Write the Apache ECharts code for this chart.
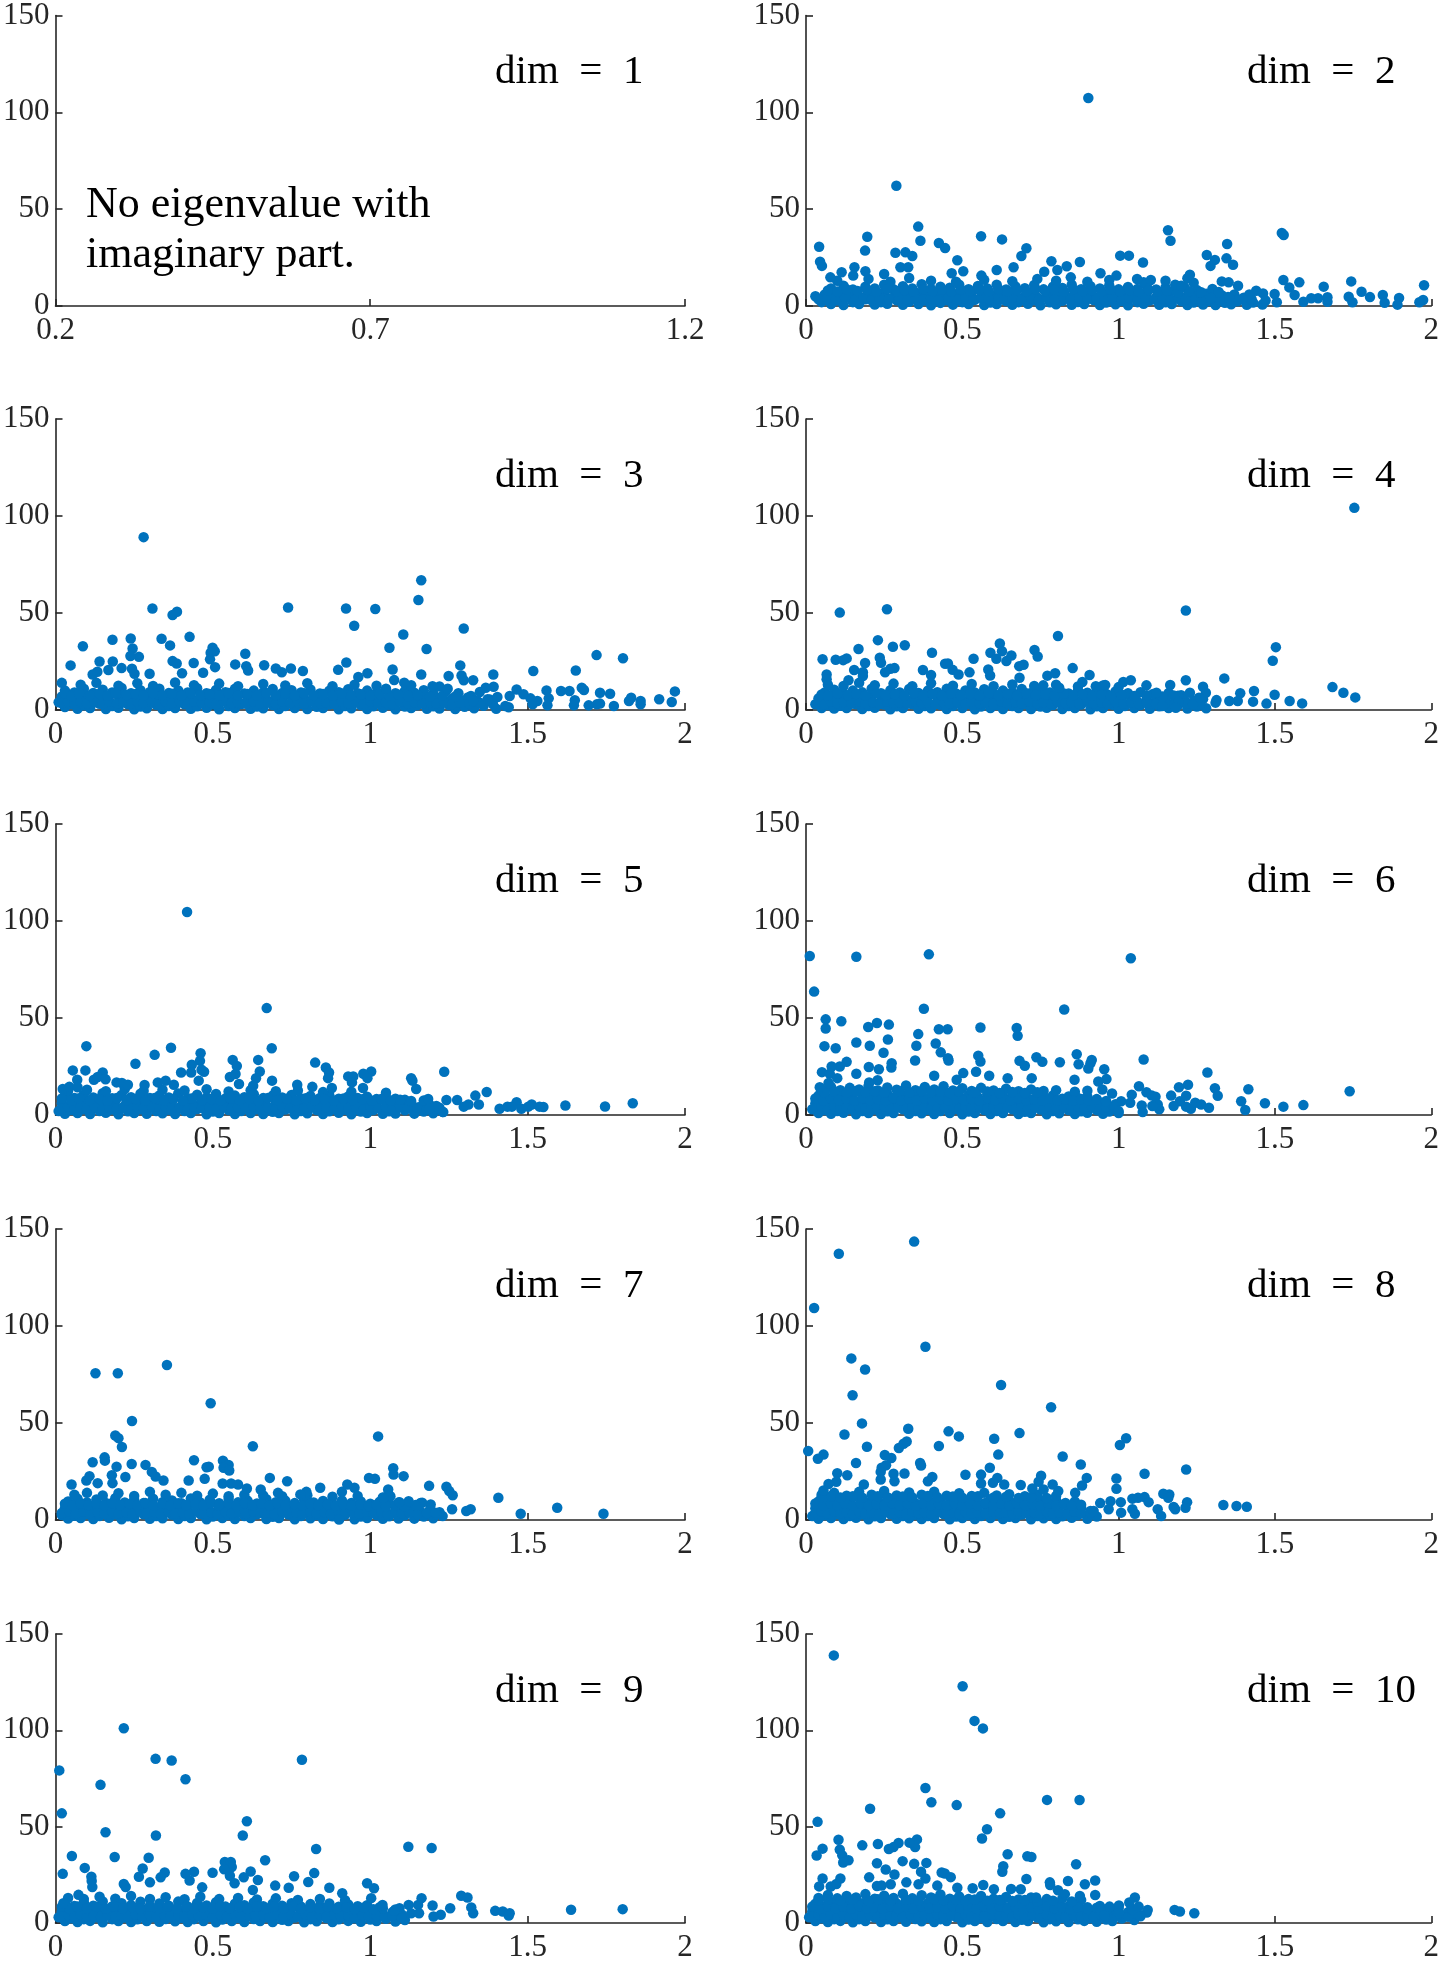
<!DOCTYPE html>
<html><head><meta charset="utf-8">
<script src="https://cdn.jsdelivr.net/npm/echarts@6/dist/echarts.min.js"></script>
<style>html,body{margin:0;padding:0;background:#fff}#c{width:1442px;height:1963px}</style>
</head><body><div id="c"></div>
<script>
const yTicks=[0,50,100,150];
const xTicksDim1=[0.2,0.7,1.2];
const xTicks=[0,0.5,1,1.5,2];
const dimLabels=['dim\u2002=\u20021','dim\u2002=\u20022','dim\u2002=\u20023','dim\u2002=\u20024','dim\u2002=\u20025','dim\u2002=\u20026','dim\u2002=\u20027','dim\u2002=\u20028','dim\u2002=\u20029','dim\u2002=\u200210'];
const noteLines=['No eigenvalue with','imaginary part.'];

const dim2Out=[[0.903,107.4],[0.289,62.1],[0.359,41],[0.366,33.7],[0.196,35.8],[0.189,28.6],[0.042,30.6],[0.045,22.9],[0.051,20.7],[0.286,27.5],[0.318,27.7],[0.34,25.8],[0.425,32.5],[0.445,29.9],[0.484,23.6],[0.56,36],[0.627,34.4],[0.705,29.8],[0.689,25.8],[0.785,23.1],[0.876,22.7],[1.005,26],[1.033,26],[1.078,22.5],[1.158,39.1],[1.166,33.7],[1.282,26.3],[1.294,20.7],[1.308,23.8],[1.347,32],[1.345,24.6],[1.366,21.3],[1.522,37.7],[1.528,36.7],[1.527,13.4],[1.578,12.2],[1.546,9.6],[1.563,5.7],[1.744,12.7],[1.777,7.4],[1.804,4.6],[1.845,5.7],[1.851,1.7],[1.897,4.1],[1.892,0.7],[1.977,10.7],[1.974,3.1],[1.962,1.9],[1.656,10],[1.668,4.5],[1.638,4],[1.616,4],[1.591,2.2],[1.668,2.2],[1.748,1.9],[1.736,4.8],[1.499,6.2],[1.462,6.5],[1.44,7.9],[1.418,5.9],[1.396,3.6],[1.382,10.5],[1.506,1.9],[1.47,2.8],[0.078,14.8],[0.114,17.4],[0.155,20],[0.151,15.7],[0.19,17.9],[0.25,16.5],[0.302,20],[0.327,20],[0.466,16.9],[0.503,17.9],[0.561,15.7],[0.61,18.6],[0.664,20],[0.762,17.7],[0.804,18.6],[0.834,20.5],[0.847,14.8],[0.942,16.9],[0.993,15.7],[1.059,13.9],[1.103,13.4],[1.181,11],[1.22,14.3],[1.228,16.2],[1.2,10.5],[1.264,7.1],[1.33,12.7],[1.352,12.2]];
const dim2Core=[[0.03,5],[0.05,2],[0.08,1],[0.1,3],[0.12,0.5],[0.15,2],[0.17,1],[0.19,3.5],[0.22,0.8],[0.24,2],[0.26,1.2],[0.29,3],[0.31,0.6],[0.33,2.2],[0.36,1],[0.38,2.8],[0.4,0.4],[0.43,1.6],[0.45,3],[0.47,0.7],[0.5,2],[0.52,1],[0.54,3.2],[0.57,0.5],[0.59,1.8],[0.61,1],[0.64,2.6],[0.66,0.6],[0.68,2],[0.71,1.1],[0.73,3],[0.75,0.4],[0.78,1.9],[0.8,0.9],[0.82,2.7],[0.85,0.6],[0.87,2.1],[0.89,1],[0.92,3.1],[0.94,0.5],[0.96,1.8],[0.99,0.9],[1.01,2.6],[1.03,0.4],[1.06,2],[1.08,1.1],[1.1,2.9],[1.13,0.6],[1.15,1.9],[1.17,1],[1.2,2.5],[1.22,0.5],[1.24,1.8],[1.27,0.8],[1.29,2.6],[1.31,0.5],[1.34,1.7],[1.36,0.9],[1.38,2.4],[1.41,0.6],[1.43,1.8],[1.46,0.8],
[0.06,6],[0.09,4.5],[0.11,7],[0.14,5],[0.16,6.5],[0.18,4.2],[0.21,6],[0.23,5],[0.25,7.2],[0.28,4.6],[0.3,6.2],[0.32,5.1],[0.35,6.8],[0.37,4.4],[0.39,6],[0.42,5.3],[0.44,7],[0.46,4.5],[0.49,6.1],[0.51,5],[0.53,6.9],[0.56,4.3],[0.58,6.2],[0.6,5.2],[0.63,7.1],[0.65,4.6],[0.67,6],[0.7,5],[0.72,6.7],[0.74,4.4],[0.77,6.3],[0.79,5.2],[0.81,6.9],[0.84,4.5],[0.86,6],[0.88,5.1],[0.91,6.6],[0.93,4.3],[0.95,6.2],[0.98,5],[1,6.8],[1.02,4.6],[1.05,6.1],[1.07,5.2],[1.09,6.6],[1.12,4.4],[1.14,6],[1.16,5],[1.19,6.4],[1.21,4.5],[1.23,5.9],[1.26,4.8],[1.28,6.3],[1.3,4.2],[1.33,5.6],[1.35,4.6],[1.37,6],[1.4,4.3],[1.42,5.2],
[0.08,9],[0.12,10.5],[0.15,8.5],[0.19,10],[0.22,9],[0.25,11],[0.28,8.6],[0.31,10.2],[0.34,9.1],[0.37,11.2],[0.4,8.8],[0.43,10],[0.46,9.4],[0.49,11],[0.52,8.7],[0.55,10.3],[0.58,9],[0.61,11],[0.64,8.5],[0.67,10.1],[0.7,9.2],[0.73,10.8],[0.76,8.6],[0.79,10],[0.82,9.3],[0.85,11],[0.88,8.7],[0.91,10.2],[0.94,9],[0.97,10.6],[1,8.6],[1.03,9.8],[1.06,8.8],[1.09,10.4],[1.12,8.5],[1.15,9.6],[1.18,8.2],[1.21,9.8],[1.25,8.3],[1.3,8.8],
[0.1,13],[0.2,14],[0.27,12.5],[0.33,14.5],[0.4,13],[0.48,12.5],[0.57,13.5],[0.66,12.8],[0.74,14],[0.8,13],[0.9,12.5],[0.97,13.4],[1.08,12.2],[1.15,13],[1.24,12]];
const dim2Fill=[[0.04,3.5],[0.07,4],[0.095,3],[0.125,4.2],[0.16,3.4],[0.185,4],[0.21,3],[0.235,4.4],[0.265,3.6],[0.3,4],[0.325,3.2],[0.35,4.3],[0.375,3.5],[0.4,4],[0.425,3],[0.455,4.2],[0.485,3.4],[0.51,4],[0.535,3.1],[0.56,4.4],[0.585,3.5],[0.615,4],[0.635,3.2],[0.66,4.3],[0.69,3.5],[0.72,4],[0.745,3.1],[0.77,4.2],[0.795,3.4],[0.825,4],[0.845,3],[0.875,4.3],[0.9,3.6],[0.93,4],[0.955,3.2],[0.98,4.4],[1.01,3.5],[1.035,4],[1.06,3.1],[1.085,4.2],[1.115,3.4],[1.14,4],[1.165,3],[1.19,4.3],[1.215,3.5],[1.245,4],[1.265,3.2],[1.295,4.1],[1.325,3.3],[1.355,3.9],[1.385,3.1],[1.425,3.6],
[0.07,8],[0.1,7.5],[0.13,8.6],[0.165,7.8],[0.195,8.4],[0.225,7.4],[0.26,8.8],[0.29,7.7],[0.315,8.3],[0.345,7.5],[0.375,8.7],[0.405,7.6],[0.435,8.4],[0.465,7.4],[0.495,8.6],[0.525,7.7],[0.555,8.2],[0.585,7.5],[0.615,8.8],[0.645,7.6],[0.675,8.3],[0.705,7.4],[0.735,8.7],[0.765,7.7],[0.795,8.4],[0.825,7.5],[0.855,8.6],[0.885,7.6],[0.915,8.2],[0.945,7.4],[0.975,8.5],[1.005,7.6],[1.035,8.1],[1.065,7.3],[1.095,8.2],[1.125,7.4],[1.155,7.9],[1.19,7.2],[1.225,7.6],[1.26,7],[1.32,7.2]];

const dim3Out=[[0.28,89.1],[1.162,66.9],[1.153,56.7],[0.308,52.3],[0.739,52.8],[0.923,52.3],[1.016,52.1],[0.386,50.6],[0.372,49],[0.949,43.4],[1.297,42],[1.105,38.9],[0.426,37.7],[0.337,36.7],[0.181,36.2],[0.239,36.9],[0.364,33.3],[0.087,32.9],[1.061,32.1],[1.179,31.4],[0.245,31.7],[0.499,32.1],[0.506,30.3],[0.493,29.5],[0.603,29],[1.719,28.3],[1.803,26.7],[0.265,27.4],[0.238,27.8],[0.491,26.1],[0.372,25.2],[0.385,24],[0.14,25],[0.182,25],[0.439,24.2],[0.571,23.5],[0.663,23.1],[0.924,24.5],[0.606,22.6],[1.286,23],[0.048,23],[0.507,22.1],[0.21,21.6],[0.243,21.3],[0.748,21.4],[0.7,21.4],[0.612,20.4],[0.719,19.5],[0.786,20.1],[0.898,20.7],[1.518,20.1],[1.653,20.4],[0.133,19.7],[0.168,20.6],[0.251,18.7],[0.299,18.7],[0.469,19.2],[0.402,18.9],[0.991,18.9],[1.162,18.3],[1.391,18.3],[1.29,17.8],[1.249,17.5],[0.118,18.3],[0.962,17],[1.071,20.9],[1.327,15.3],[1.56,10.1],[1.606,9.8],[1.633,9.8],[1.672,11.5],[1.679,10.3],[1.73,8.9],[1.762,8.4],[1.968,9.6],[1.918,5.5],[1.958,4.1],[1.829,6.3],[1.822,4.6],[1.859,4.6],[1.859,2.9],[1.774,2.1],[1.72,2.9],[1.694,2.4],[1.73,3.3],[1.65,5],[1.647,2.4],[1.567,6],[1.563,2.4],[1.531,4.6],[1.509,6],[1.516,2.9],[1.487,8.1],[1.465,10.6],[1.443,7.2],[1.429,2.1],[1.404,6.7],[1.392,12],[1.367,11.5],[1.348,9.3],[1.373,5.5],[1.327,4.6],[1.297,15.3],[1.246,11],[1.198,12.3],[1.108,14.1],[1.076,15.4],[1.05,11]];
const dim3Core=[[0.01,4],[0.03,1.5],[0.05,3],[0.07,0.6],[0.09,2.4],[0.11,1],[0.14,3.2],[0.16,0.5],[0.18,2],[0.2,1.1],[0.23,2.9],[0.25,0.4],[0.27,1.8],[0.29,0.9],[0.32,2.7],[0.34,0.5],[0.36,2.1],[0.38,1],[0.41,3],[0.43,0.6],[0.45,1.9],[0.48,1.1],[0.5,2.8],[0.52,0.4],[0.55,2],[0.57,1],[0.59,3.1],[0.62,0.6],[0.64,1.8],[0.66,0.9],[0.69,2.6],[0.71,0.5],[0.73,2.1],[0.76,1],[0.78,2.9],[0.8,0.5],[0.83,1.7],[0.85,1],[0.87,2.8],[0.9,0.4],[0.92,2],[0.94,0.9],[0.97,2.6],[0.99,0.5],[1.01,1.9],[1.04,1.1],[1.06,2.7],[1.08,0.4],[1.11,1.8],[1.13,1],[1.15,2.5],[1.18,0.6],[1.2,1.9],[1.22,0.8],[1.25,2.6],[1.27,0.5],[1.3,1.7],[1.33,0.9],[1.36,2.2],[1.4,0.6],[1.44,1.4],
[0.02,7],[0.04,5],[0.06,8],[0.08,5.5],[0.1,7],[0.13,4.6],[0.15,6.5],[0.17,5.1],[0.2,7.2],[0.22,4.4],[0.24,6.2],[0.26,5],[0.29,6.9],[0.31,4.5],[0.33,6.1],[0.35,5.3],[0.38,7],[0.4,4.4],[0.42,6.3],[0.45,5],[0.47,6.8],[0.49,4.6],[0.51,6],[0.54,5.2],[0.56,7.1],[0.58,4.3],[0.61,6.2],[0.63,5],[0.65,6.6],[0.68,4.5],[0.7,6.1],[0.72,5.1],[0.75,6.9],[0.77,4.4],[0.79,6],[0.82,5.2],[0.84,6.7],[0.86,4.6],[0.89,6.2],[0.91,5],[0.93,6.8],[0.96,4.3],[0.98,6],[1,5.1],[1.03,6.6],[1.05,4.5],[1.07,6.2],[1.1,5],[1.12,6.7],[1.14,4.4],[1.17,6],[1.19,5.2],[1.21,6.5],[1.24,4.5],[1.26,5.8],[1.29,4.8],[1.31,6.4],[1.34,4.6],[1.38,5.4],
[0.03,10],[0.06,9],[0.09,11],[0.12,8.8],[0.15,10.4],[0.18,9],[0.21,11.3],[0.24,8.6],[0.27,10.2],[0.3,9.3],[0.33,11],[0.36,8.7],[0.39,10.1],[0.42,9],[0.45,11.2],[0.48,8.6],[0.51,10.3],[0.54,9.2],[0.57,10.9],[0.6,8.5],[0.63,10],[0.66,9.1],[0.69,10.8],[0.72,8.7],[0.75,10.2],[0.78,9],[0.81,10.6],[0.84,8.5],[0.87,9.9],[0.9,9.2],[0.93,10.7],[0.96,8.6],[0.99,10],[1.02,9],[1.05,10.5],[1.08,8.6],[1.11,9.8],[1.14,8.9],[1.17,10.2],[1.2,8.5],[1.24,9.6],[1.28,8.6],
[0.02,14],[0.08,13],[0.13,14],[0.2,12.5],[0.26,13.8],[0.31,12.4],[0.38,14.2],[0.44,12.8],[0.52,13.6],[0.58,12.3],[0.66,13.4],[0.73,12.6],[0.8,13.8],[0.88,12.2],[0.95,13],[1.02,12.5],[1.13,12.8],[1.22,12.1]];
const dim3Fill=[[0.02,3.6],[0.04,4.2],[0.06,3.2],[0.08,4.4],[0.1,3.5],[0.125,4],[0.15,3.1],[0.17,4.3],[0.195,3.4],[0.215,4],[0.24,3.2],[0.26,4.4],[0.28,3.6],[0.305,4],[0.33,3.1],[0.35,4.2],[0.37,3.5],[0.395,4],[0.42,3.2],[0.44,4.3],[0.465,3.6],[0.49,4],[0.51,3.1],[0.535,4.4],[0.56,3.5],[0.58,4],[0.605,3.2],[0.63,4.2],[0.65,3.6],[0.675,4],[0.7,3.1],[0.72,4.3],[0.745,3.4],[0.77,4],[0.79,3.2],[0.815,4.4],[0.84,3.5],[0.86,4],[0.885,3.1],[0.91,4.2],[0.93,3.6],[0.955,4],[0.98,3.2],[1,4.3],[1.025,3.5],[1.05,4],[1.07,3.1],[1.095,4.2],[1.12,3.4],[1.14,4],[1.165,3.2],[1.19,4.1],[1.21,3.5],[1.235,3.9],[1.26,3.1],[1.285,3.8],[1.315,3.2],[1.35,3.6],[1.39,3],
[0.03,8.5],[0.05,7.2],[0.075,8.6],[0.11,7.6],[0.14,8.4],[0.165,7.4],[0.19,8.8],[0.225,7.7],[0.255,8.3],[0.28,7.5],[0.31,8.7],[0.34,7.6],[0.37,8.4],[0.4,7.4],[0.43,8.6],[0.46,7.7],[0.49,8.2],[0.52,7.5],[0.55,8.8],[0.58,7.6],[0.61,8.3],[0.64,7.4],[0.67,8.7],[0.7,7.7],[0.73,8.4],[0.76,7.5],[0.79,8.6],[0.82,7.6],[0.85,8.2],[0.88,7.4],[0.91,8.5],[0.94,7.6],[0.97,8.1],[1,7.3],[1.03,8.2],[1.06,7.4],[1.09,7.9],[1.12,7.2],[1.15,7.6],[1.19,7],[1.23,7.4],[1.27,7],[1.32,7.2]];

const dim4Out=[[1.754,104.2],[0.259,51.9],[0.108,50.2],[1.215,51.3],[0.806,38.1],[0.23,36],[0.316,33.4],[0.278,32.6],[0.62,34.3],[1.503,32.4],[0.168,31.4],[0.627,30.3],[0.731,30.9],[0.403,29.5],[0.59,29.5],[0.741,27.6],[0.657,28.1],[0.609,26.4],[0.536,26.4],[0.641,25.2],[0.236,26.9],[0.24,24.3],[1.493,25.4],[0.053,26.2],[0.095,25.9],[0.13,26.6],[0.119,25.7],[0.189,24.2],[0.696,23.3],[0.682,22.6],[0.454,24],[0.445,23.8],[0.27,21.3],[0.283,21.6],[0.853,21.6],[0.154,20.6],[0.469,20.7],[0.253,19.5],[0.182,19.5],[0.523,19.4],[0.583,20.9],[0.066,18.3],[0.374,20.6],[0.4,18],[0.488,18.3],[0.772,17.7],[0.797,18.9],[0.589,17.8],[0.907,18],[1.338,16.3],[0.683,16.6],[0.066,15.8],[0.136,15.3],[0.182,17.5],[1.015,14.4],[1.039,15.3],[1.165,12.9],[1.215,15.3],[1.27,12],[1.433,9.8],[1.389,8.6],[1.684,11.8],[1.719,8.9],[1.757,6.5],[1.499,7.9],[1.547,4.6],[1.587,3.4],[1.473,3.3],[1.43,4.3],[1.381,4.6],[1.354,4.6],[1.313,5.1],[1.279,8.9],[1.257,6.3],[1.228,8.9],[1.089,12.7],[1.121,8.9],[1.176,7.5],[1.191,4.1],[1.139,2.1],[1.183,1.2],[1.238,2.9],[0.957,12.9],[0.927,12.3],[0.884,14.4],[0.81,11.5],[0.759,12.7]];
const dim4Core=[[0.03,3],[0.05,1],[0.07,2.5],[0.09,0.8],[0.11,2.2],[0.13,1],[0.16,3],[0.18,0.5],[0.2,2],[0.22,1.1],[0.25,2.8],[0.27,0.4],[0.29,1.9],[0.31,1],[0.34,3],[0.36,0.6],[0.38,2.1],[0.4,0.9],[0.43,2.7],[0.45,0.5],[0.47,2],[0.5,1],[0.52,3.1],[0.54,0.4],[0.56,1.8],[0.59,1],[0.61,2.6],[0.63,0.5],[0.66,2.1],[0.68,1],[0.7,2.9],[0.72,0.5],[0.75,1.8],[0.77,1.1],[0.79,2.6],[0.82,0.5],[0.84,2],[0.86,1],[0.88,2.8],[0.91,0.4],[0.93,1.9],[0.95,1],[0.98,2.7],[1,0.6],[1.02,2],[1.05,1],[1.07,2.6],[1.1,0.6],[1.13,1.9],[1.16,1],[1.19,2.4],[1.22,0.8],[1.25,1.8],[1.28,0.9],
[0.04,6],[0.06,4.5],[0.08,6.8],[0.1,5],[0.12,7],[0.15,4.5],[0.17,6.3],[0.19,5.2],[0.21,7.1],[0.24,4.4],[0.26,6.1],[0.28,5],[0.3,6.9],[0.33,4.6],[0.35,6.2],[0.37,5.1],[0.39,6.8],[0.42,4.3],[0.44,6],[0.46,5.2],[0.49,7],[0.51,4.5],[0.53,6.2],[0.55,5],[0.58,6.7],[0.6,4.4],[0.62,6.1],[0.65,5.2],[0.67,6.9],[0.69,4.6],[0.71,6],[0.74,5],[0.76,6.7],[0.78,4.3],[0.81,6.2],[0.83,5.1],[0.85,6.6],[0.87,4.5],[0.9,6],[0.92,5.2],[0.94,6.4],[0.97,4.5],[0.99,5.8],[1.01,4.8],[1.04,6.2],[1.06,4.4],[1.09,5.5],[1.12,4.6],[1.15,5.9],[1.18,4.3],[1.21,5.2],[1.24,4.6],[1.27,5.6],[1.31,3.8],
[0.06,9],[0.09,10.5],[0.12,8.7],[0.15,10],[0.18,9.1],[0.21,11],[0.24,8.6],[0.27,10.2],[0.3,9],[0.33,10.8],[0.36,8.8],[0.39,10],[0.42,9.2],[0.45,10.9],[0.48,8.5],[0.51,10.1],[0.54,9],[0.57,10.7],[0.6,8.6],[0.63,10],[0.66,9.2],[0.69,10.8],[0.72,8.7],[0.75,10.1],[0.78,9],[0.81,10.4],[0.84,8.5],[0.87,9.8],[0.9,8.9],[0.93,10.2],[0.96,8.4],[0.99,9.6],[1.03,8.6],[1.07,9.2],[1.11,8.3],[1.16,8.8],[1.2,7.6],
[0.07,13],[0.12,12.4],[0.17,14],[0.22,12.8],[0.28,13.6],[0.34,12.2],[0.4,13.8],[0.47,12.5],[0.53,13.4],[0.6,12.3],[0.66,13.1],[0.73,12.4],[0.8,13],[0.87,12.1],[0.95,12.6],[1,11.8]];
const dim4Fill=[[0.04,3.8],[0.06,3.1],[0.08,4.2],[0.1,3.4],[0.12,4],[0.145,3.2],[0.17,4.4],[0.19,3.6],[0.215,4],[0.235,3.1],[0.26,4.2],[0.28,3.5],[0.3,4],[0.325,3.2],[0.35,4.3],[0.37,3.6],[0.39,4],[0.415,3.1],[0.44,4.4],[0.46,3.5],[0.485,4],[0.51,3.2],[0.53,4.2],[0.555,3.6],[0.575,4],[0.6,3.1],[0.625,4.3],[0.645,3.4],[0.67,4],[0.69,3.2],[0.715,4.4],[0.74,3.5],[0.76,4],[0.785,3.1],[0.805,4.2],[0.83,3.6],[0.85,4],[0.875,3.2],[0.9,4.3],[0.92,3.5],[0.945,4],[0.965,3.1],[0.99,4.1],[1.015,3.4],[1.04,3.9],[1.065,3.2],[1.09,3.8],[1.12,3.1],[1.15,3.6],[1.18,3],[1.215,3.5],[1.26,3],
[0.05,8],[0.07,7.3],[0.1,8.5],[0.135,7.6],[0.16,8.3],[0.19,7.4],[0.225,8.7],[0.255,7.7],[0.285,8.2],[0.315,7.5],[0.345,8.8],[0.375,7.6],[0.405,8.3],[0.435,7.4],[0.465,8.6],[0.495,7.7],[0.525,8.2],[0.555,7.5],[0.585,8.7],[0.615,7.6],[0.645,8.3],[0.675,7.4],[0.705,8.6],[0.735,7.7],[0.765,8.2],[0.795,7.5],[0.825,8.5],[0.855,7.6],[0.885,8.1],[0.915,7.3],[0.945,8.2],[0.975,7.4],[1.01,7.8],[1.05,7.2],[1.09,7.6],[1.14,7],[1.19,7.3]];

const dim5Out=[[0.418,104.6],[0.671,55.1],[0.687,34.4],[0.098,35.5],[0.367,34.7],[0.315,31],[0.461,31.8],[0.459,27.9],[0.563,28.4],[0.644,28.4],[0.254,26.4],[0.825,27],[0.433,25.9],[0.576,25.3],[0.464,23.3],[0.472,22.3],[0.859,24.5],[0.869,21.9],[0.866,19],[0.055,23],[0.095,23],[0.15,21.9],[0.399,21.9],[0.431,21.9],[0.649,22.4],[1.235,22.3],[1.003,22.4],[0.978,21.3],[0.991,19],[0.93,19.9],[0.946,19.9],[0.942,16.8],[0.554,19.6],[0.572,21.1],[0.637,18.9],[0.688,17.7],[1.13,19],[1.134,17.7],[0.122,18.2],[0.134,19.6],[0.159,18.4],[0.069,18.2],[0.194,16.8],[0.211,16.5],[0.23,15.6],[0.283,15.5],[0.325,16.8],[0.35,17.7],[0.376,15.6],[0.455,17.7],[0.583,16],[0.628,15.1],[0.768,15.6],[0.816,14.5],[0.878,13.9],[0.977,13.9],[1.146,13.4],[1.37,11.9],[0.023,13.4],[0.044,14.5],[0.07,14.3],[1.334,10],[1.345,5.4],[1.276,7.7],[1.312,5.4],[1.297,4.3],[1.184,8.3],[1.242,7.7],[1.21,4.6],[1.232,1.5],[1.187,3.2],[1.411,3.2],[1.436,4.3],[1.465,6.6],[1.48,3.2],[1.513,5.4],[1.538,4.3],[1.55,4.1],[1.62,4.9],[1.746,4.4],[1.834,6.1],[1.45,4.3],[1.502,4.3]];
const dim5Core=[[0.01,2],[0.03,0.6],[0.05,2.6],[0.07,1],[0.09,3],[0.11,0.5],[0.14,2],[0.16,1.1],[0.18,2.8],[0.2,0.4],[0.23,1.9],[0.25,1],[0.27,3],[0.29,0.6],[0.32,2.1],[0.34,0.9],[0.36,2.7],[0.38,0.5],[0.41,2],[0.43,1],[0.45,3.1],[0.48,0.4],[0.5,1.8],[0.52,1],[0.55,2.6],[0.57,0.5],[0.59,2.1],[0.62,1],[0.64,2.9],[0.66,0.5],[0.69,1.7],[0.71,1],[0.73,2.8],[0.76,0.4],[0.78,2],[0.8,0.9],[0.83,2.6],[0.85,0.5],[0.87,1.9],[0.9,1.1],[0.92,2.7],[0.94,0.4],[0.97,1.8],[0.99,1],[1.01,2.5],[1.04,0.6],[1.06,1.9],[1.08,0.8],[1.11,2.4],[1.14,0.7],[1.17,1.8],[1.2,0.9],[1.23,1.6],
[0.02,6],[0.04,4.5],[0.06,7],[0.08,5],[0.1,6.5],[0.13,4.4],[0.15,6.2],[0.17,5.1],[0.19,7.1],[0.22,4.6],[0.24,6.1],[0.26,5],[0.28,6.9],[0.31,4.3],[0.33,6.2],[0.35,5.2],[0.37,7],[0.4,4.5],[0.42,6],[0.44,5.1],[0.47,6.8],[0.49,4.4],[0.51,6.3],[0.54,5],[0.56,6.7],[0.58,4.6],[0.6,6],[0.63,5.2],[0.65,6.9],[0.67,4.4],[0.7,6.1],[0.72,5],[0.74,6.6],[0.77,4.5],[0.79,6],[0.81,5.1],[0.84,6.8],[0.86,4.3],[0.88,6],[0.91,5.2],[0.93,6.5],[0.95,4.6],[0.98,6],[1,5],[1.02,6.4],[1.05,4.4],[1.07,5.8],[1.1,4.7],[1.13,5.5],[1.16,4.2],[1.19,5.1],[1.22,3.8],
[0.03,10],[0.06,8.8],[0.09,10.6],[0.12,9],[0.15,11.2],[0.18,8.6],[0.21,10.3],[0.24,9.2],[0.27,11],[0.3,8.7],[0.33,10.1],[0.36,9],[0.39,11.1],[0.42,8.6],[0.45,10.4],[0.48,9.1],[0.51,10.8],[0.54,8.5],[0.57,10],[0.6,9.2],[0.63,10.7],[0.66,8.7],[0.69,10],[0.72,9],[0.75,10.3],[0.78,8.5],[0.81,9.8],[0.84,8.8],[0.87,10.1],[0.9,8.4],[0.93,9.6],[0.96,8.7],[0.99,9.4],[1.02,8.2],[1.05,9],[1.08,8.4],[1.11,7.8],
[0.04,12.5],[0.1,13],[0.16,12.2],[0.22,13.4],[0.28,12.4],[0.34,13],[0.41,12.6],[0.48,13.3],[0.55,12.1],[0.62,12.8],[0.7,12.2],[0.77,12.6],[0.85,11.8],[0.94,12],[1.05,11.5]];
const dim5Fill=[[0.02,3.6],[0.04,4.2],[0.06,3.2],[0.08,4.4],[0.1,3.5],[0.125,4],[0.15,3.1],[0.17,4.3],[0.195,3.4],[0.215,4],[0.24,3.2],[0.26,4.4],[0.28,3.6],[0.305,4],[0.33,3.1],[0.35,4.2],[0.37,3.5],[0.395,4],[0.42,3.2],[0.44,4.3],[0.465,3.6],[0.49,4],[0.51,3.1],[0.535,4.4],[0.56,3.5],[0.58,4],[0.605,3.2],[0.63,4.2],[0.65,3.6],[0.675,4],[0.7,3.1],[0.72,4.3],[0.745,3.4],[0.77,4],[0.79,3.2],[0.815,4.4],[0.84,3.5],[0.86,4],[0.885,3.1],[0.91,4.2],[0.93,3.6],[0.955,4],[0.98,3.2],[1,4.3],[1.025,3.5],[1.05,4],[1.07,3.1],[1.095,4.2],[1.12,3.4],[1.15,3.9],[1.18,3.1],[1.21,3.5],
[0.02,8.5],[0.05,7.4],[0.075,8.6],[0.11,7.6],[0.14,8.4],[0.165,7.4],[0.195,8.8],[0.225,7.7],[0.255,8.3],[0.285,7.5],[0.315,8.7],[0.345,7.6],[0.375,8.4],[0.405,7.4],[0.435,8.6],[0.465,7.7],[0.495,8.2],[0.525,7.5],[0.555,8.8],[0.585,7.6],[0.615,8.3],[0.645,7.4],[0.675,8.7],[0.705,7.7],[0.735,8.4],[0.765,7.5],[0.795,8.6],[0.825,7.6],[0.855,8.2],[0.885,7.4],[0.915,8.5],[0.945,7.6],[0.975,8.1],[1.005,7.3],[1.035,8.2],[1.065,7.4],[1.095,7.9],[1.13,7.2],[1.17,7.5]];

const dim6Out=[[0.012,82],[0.161,81.6],[0.393,82.8],[1.039,80.8],[0.026,63.6],[0.377,54.8],[0.826,54.4],[0.063,49.3],[0.113,48.3],[0.227,47.4],[0.265,46.6],[0.063,44.6],[0.199,45.4],[0.425,44.2],[0.453,44.2],[0.558,45.1],[0.674,44.9],[0.677,40.8],[0.359,41.7],[0.161,37.4],[0.262,38.9],[0.415,36.9],[0.059,35.5],[0.204,35.7],[0.095,34.4],[0.353,35.7],[0.248,32.1],[0.431,32.3],[0.866,31.3],[0.551,30.6],[0.737,29.8],[0.914,28.4],[1.08,28.6],[0.454,29.3],[0.558,27.6],[0.349,28.1],[0.456,28.1],[0.683,27.9],[0.756,27.4],[0.812,27.2],[0.91,26.7],[0.13,27.4],[0.274,26.7],[0.273,24.5],[0.872,26.2],[0.7,25.4],[0.108,25],[0.082,25],[0.233,23.6],[0.201,24.7],[0.903,24],[0.954,23.6],[1.284,21.9],[0.051,22.1],[0.076,21.3],[0.161,21.3],[0.503,21.6],[0.544,22.3],[0.586,20.2],[0.41,20.2],[0.1,19],[0.229,17.9],[0.202,16.8],[0.482,18.2],[0.645,18.9],[0.722,19],[0.859,18.2],[0.961,18.5],[0.935,17.3],[0.072,16.5],[0.044,14.3],[1.065,14.8],[1.193,14.3],[1.222,15.6],[1.308,13.8],[1.415,13.3],[1.317,9.9],[1.216,9.9],[1.168,10],[1.739,12.2],[0.948,13.1],[0.979,11.1],[1.089,11.7],[1.106,10],[1.118,9.4],[1.125,5.4],[1.13,2.9],[1.108,4.6],[1.074,4.9],[1.077,1.5],[1.042,10.5],[1.037,6.3],[1.196,7.1],[1.176,4.6],[1.216,4.3],[1.231,3.2],[1.245,6.3],[1.264,5.4],[1.289,3.7],[1.392,7.1],[1.405,2.6],[1.468,6.1],[1.527,4.3],[1.591,5.1],[1.008,7.1],[0.986,4.3],[1,2]];
const dim6Core=[[0.02,3],[0.04,1],[0.06,2.5],[0.08,0.6],[0.1,2],[0.12,1.1],[0.14,3],[0.16,0.4],[0.18,2],[0.2,1],[0.22,2.8],[0.24,0.5],[0.26,1.9],[0.28,1],[0.31,3],[0.33,0.6],[0.35,2.1],[0.37,0.9],[0.39,2.7],[0.41,0.5],[0.43,2],[0.46,1],[0.48,3.1],[0.5,0.4],[0.52,1.8],[0.54,1],[0.57,2.6],[0.59,0.5],[0.61,2.1],[0.63,1],[0.66,2.9],[0.68,0.5],[0.7,1.7],[0.72,1],[0.75,2.8],[0.77,0.4],[0.79,2],[0.81,0.9],[0.84,2.6],[0.86,0.5],[0.88,1.9],[0.9,1.1],[0.93,2.5],[0.95,0.6],[0.97,1.8],[1,1],
[0.03,6],[0.05,4.6],[0.07,7],[0.09,5],[0.11,6.6],[0.13,4.4],[0.15,6.2],[0.17,5.1],[0.19,7.1],[0.21,4.6],[0.23,6.1],[0.25,5],[0.27,6.9],[0.29,4.3],[0.32,6.2],[0.34,5.2],[0.36,7],[0.38,4.5],[0.4,6],[0.42,5.1],[0.45,6.8],[0.47,4.4],[0.49,6.3],[0.51,5],[0.53,6.7],[0.55,4.6],[0.58,6],[0.6,5.2],[0.62,6.9],[0.64,4.4],[0.67,6.1],[0.69,5],[0.71,6.6],[0.73,4.5],[0.76,6],[0.78,5.1],[0.8,6.8],[0.82,4.3],[0.85,6],[0.87,5.2],[0.89,6.5],[0.91,4.6],[0.94,5.8],[0.96,4.8],[0.99,5.5],
[0.04,10],[0.07,8.7],[0.1,10.6],[0.12,9],[0.15,11.2],[0.18,8.6],[0.2,10.3],[0.23,9.2],[0.26,11],[0.28,8.7],[0.31,10.1],[0.34,9],[0.36,11.1],[0.39,8.6],[0.42,10.4],[0.44,9.1],[0.47,10.8],[0.5,8.5],[0.52,10],[0.55,9.2],[0.58,10.7],[0.6,8.7],[0.63,10],[0.66,9],[0.68,10.3],[0.71,8.5],[0.74,9.8],[0.76,8.8],[0.79,10.1],[0.82,8.4],[0.84,9.6],[0.87,8.7],[0.9,9.4],[0.93,8.2],
[0.05,13],[0.08,14.5],[0.11,12.8],[0.14,14],[0.17,13.2],[0.2,15],[0.23,12.6],[0.26,14.2],[0.29,13],[0.32,15.2],[0.35,12.8],[0.38,14.4],[0.41,13.2],[0.44,14.8],[0.47,12.6],[0.5,13.8],[0.53,12.4],[0.56,14],[0.6,12.6],[0.64,13.5],[0.68,12.2],[0.72,13.2],[0.76,12.4],[0.8,12.8],[0.86,12],[0.9,12.5]];
const dim6Fill=[[0.03,3.6],[0.05,4.2],[0.07,3.2],[0.09,4.4],[0.11,3.5],[0.13,4],[0.15,3.1],[0.17,4.3],[0.19,3.4],[0.21,4],[0.23,3.2],[0.25,4.4],[0.27,3.6],[0.295,4],[0.32,3.1],[0.34,4.2],[0.36,3.5],[0.38,4],[0.4,3.2],[0.42,4.3],[0.445,3.6],[0.47,4],[0.49,3.1],[0.51,4.4],[0.53,3.5],[0.555,4],[0.58,3.2],[0.6,4.2],[0.62,3.6],[0.645,4],[0.67,3.1],[0.69,4.3],[0.71,3.4],[0.735,4],[0.76,3.2],[0.78,4.4],[0.8,3.5],[0.825,4],[0.85,3.1],[0.87,4.2],[0.89,3.6],[0.915,4],[0.94,3.2],[0.96,4.1],[0.985,3.4],
[0.03,8.5],[0.055,7.4],[0.08,8.6],[0.105,7.6],[0.13,8.4],[0.155,7.4],[0.18,8.8],[0.205,7.7],[0.23,8.3],[0.255,7.5],[0.28,8.7],[0.305,7.6],[0.33,8.4],[0.355,7.4],[0.38,8.6],[0.405,7.7],[0.43,8.2],[0.455,7.5],[0.48,8.8],[0.505,7.6],[0.53,8.3],[0.555,7.4],[0.58,8.7],[0.605,7.7],[0.63,8.4],[0.655,7.5],[0.68,8.6],[0.705,7.6],[0.73,8.2],[0.755,7.4],[0.78,8.5],[0.805,7.6],[0.83,8.1],[0.855,7.3],[0.88,8.2],[0.905,7.4],[0.93,7.9],[0.96,7.2],
[0.06,11.8],[0.09,12.2],[0.13,11.6],[0.16,12.4],[0.19,11.7],[0.22,12.2],[0.25,11.5],[0.3,12.3],[0.33,11.6],[0.37,12.4],[0.4,11.8],[0.43,12.1],[0.46,11.4],[0.49,12.2],[0.54,11.6],[0.58,12.1],[0.62,11.4],[0.66,11.8],[0.7,11.3],[0.74,11.7]];

const dim7Out=[[0.354,79.9],[0.127,75.6],[0.198,75.6],[0.493,60.2],[0.243,51],[1.025,43.1],[0.19,43.6],[0.2,42.2],[0.211,37.6],[0.627,38],[0.156,32.3],[0.157,30.6],[0.118,29.8],[0.242,28.9],[0.286,28.4],[0.44,30.8],[0.532,30.6],[0.55,28.4],[0.487,27.5],[0.48,27.2],[0.534,26.9],[0.552,25.5],[0.194,27.5],[1.073,26.7],[1.074,23.4],[0.306,24.8],[0.179,23.1],[0.318,22.4],[0.222,22.2],[0.108,22.6],[1.106,22.6],[0.681,21.7],[0.996,21.7],[1.015,21.2],[0.098,20.4],[0.134,19],[0.181,19],[0.343,20.4],[0.423,20.4],[0.474,21.2],[0.736,20],[0.051,18.3],[0.531,18.8],[0.558,18.8],[0.58,18.3],[0.927,18.3],[0.95,16.6],[1.187,17.6],[1.242,17.1],[1.251,14.9],[1.262,12.8],[1.407,11.5],[1.594,6.3],[1.478,3.2],[1.741,3.2],[1.319,5.5],[1.305,4.6],[1.26,5.5],[1.207,3.8],[1.192,8],[1.165,8.9],[1.144,7.7],[1.122,9.7],[1.057,15.7],[1.064,12.3],[1.042,11.5],[1.093,9.2],[0.841,16.6],[0.797,14.5],[0.778,13.2],[0.707,14],[0.652,15.7],[0.608,16.2],[0.91,14.5],[0.901,0.3]];
const dim7Core=[[0.02,2.6],[0.04,0.8],[0.06,2.2],[0.08,1],[0.1,3],[0.12,0.5],[0.14,2],[0.17,1.1],[0.19,2.8],[0.21,0.4],[0.23,1.9],[0.25,1],[0.28,3],[0.3,0.6],[0.32,2.1],[0.34,0.9],[0.37,2.7],[0.39,0.5],[0.41,2],[0.43,1],[0.46,3.1],[0.48,0.4],[0.5,1.8],[0.53,1],[0.55,2.6],[0.57,0.5],[0.6,2.1],[0.62,1],[0.64,2.9],[0.67,0.5],[0.69,1.7],[0.71,1],[0.74,2.8],[0.76,0.4],[0.78,2],[0.81,0.9],[0.83,2.6],[0.85,0.5],[0.88,1.9],[0.9,1.1],[0.92,2.7],[0.95,0.4],[0.97,1.8],[0.99,1],[1.02,2.5],[1.04,0.6],[1.06,1.9],[1.09,0.8],[1.11,2.4],[1.14,0.7],[1.17,1.8],[1.2,0.9],[1.23,2],
[0.03,6],[0.05,4.5],[0.07,7],[0.09,5],[0.11,6.5],[0.13,4.4],[0.16,6.2],[0.18,5.1],[0.2,7.1],[0.22,4.6],[0.24,6.1],[0.27,5],[0.29,6.9],[0.31,4.3],[0.33,6.2],[0.36,5.2],[0.38,7],[0.4,4.5],[0.42,6],[0.45,5.1],[0.47,6.8],[0.49,4.4],[0.52,6.3],[0.54,5],[0.56,6.7],[0.59,4.6],[0.61,6],[0.63,5.2],[0.66,6.9],[0.68,4.4],[0.7,6.1],[0.73,5],[0.75,6.6],[0.77,4.5],[0.8,6],[0.82,5.1],[0.84,6.8],[0.87,4.3],[0.89,6],[0.91,5.2],[0.94,6.5],[0.96,4.6],[0.98,6],[1.01,5],[1.03,6.4],[1.05,4.4],[1.08,5.8],[1.1,4.7],[1.13,5.5],[1.16,4.2],[1.19,5.4],[1.22,4],
[0.04,9.5],[0.07,11],[0.1,9],[0.13,10.6],[0.16,8.8],[0.19,11.2],[0.22,9],[0.25,10.3],[0.28,8.7],[0.31,11],[0.34,9.2],[0.37,10.1],[0.4,8.6],[0.43,11.1],[0.46,9],[0.49,10.4],[0.52,8.6],[0.55,10.8],[0.58,9.1],[0.61,10],[0.64,8.5],[0.67,10.7],[0.7,9.2],[0.73,10],[0.76,8.7],[0.79,10.3],[0.82,9],[0.85,9.8],[0.88,8.5],[0.91,10.1],[0.94,8.8],[0.97,9.6],[1,8.4],[1.03,9.4],[1.06,8.7],[1.09,9],[1.12,8.2],[1.16,8.8],
[0.06,13],[0.1,14],[0.15,12.6],[0.2,13.8],[0.25,12.4],[0.3,14.5],[0.35,13],[0.4,14],[0.45,12.5],[0.5,13.6],[0.55,12.3],[0.6,13],[0.66,12.6],[0.72,12.2],[0.8,12.8],[0.88,12],[0.96,12.4],[1.04,11.6]];
const dim7Fill=[[0.02,3.6],[0.045,4.2],[0.065,3.2],[0.09,4.4],[0.11,3.5],[0.135,4],[0.155,3.1],[0.18,4.3],[0.2,3.4],[0.225,4],[0.245,3.2],[0.27,4.4],[0.29,3.6],[0.315,4],[0.335,3.1],[0.36,4.2],[0.38,3.5],[0.405,4],[0.425,3.2],[0.45,4.3],[0.47,3.6],[0.495,4],[0.515,3.1],[0.54,4.4],[0.56,3.5],[0.585,4],[0.605,3.2],[0.63,4.2],[0.65,3.6],[0.675,4],[0.695,3.1],[0.72,4.3],[0.74,3.4],[0.765,4],[0.785,3.2],[0.81,4.4],[0.83,3.5],[0.855,4],[0.875,3.1],[0.9,4.2],[0.92,3.6],[0.945,4],[0.965,3.2],[0.99,4.3],[1.01,3.5],[1.035,4],[1.055,3.1],[1.08,4.2],[1.1,3.4],[1.125,3.9],[1.15,3.1],[1.18,3.6],[1.21,3],
[0.03,8.4],[0.055,7.4],[0.08,8.6],[0.105,7.6],[0.13,8.4],[0.155,7.4],[0.18,8.8],[0.205,7.7],[0.235,8.3],[0.26,7.5],[0.285,8.7],[0.31,7.6],[0.34,8.4],[0.365,7.4],[0.39,8.6],[0.415,7.7],[0.445,8.2],[0.47,7.5],[0.495,8.8],[0.52,7.6],[0.55,8.3],[0.575,7.4],[0.6,8.7],[0.625,7.7],[0.655,8.4],[0.68,7.5],[0.705,8.6],[0.73,7.6],[0.76,8.2],[0.785,7.4],[0.81,8.5],[0.835,7.6],[0.865,8.1],[0.89,7.3],[0.915,8.2],[0.94,7.4],[0.97,7.9],[0.995,7.2],[1.02,7.8],[1.05,7.1],[1.08,7.6],[1.11,7],[1.15,7.3]];

const dim8Out=[[0.346,143.5],[0.105,137.2],[0.026,109.3],[0.382,89.3],[0.145,83.3],[0.189,77.6],[0.149,64.3],[0.624,69.6],[0.784,58.1],[0.179,49.8],[0.327,47],[0.456,45.7],[0.683,44.8],[0.123,44.1],[0.489,43.1],[0.602,41.9],[1.024,42.1],[1.004,38.7],[0.322,40.5],[0.312,39.3],[0.297,37.1],[0.425,38.1],[0.195,37.8],[0.007,35.6],[0.056,33.7],[0.038,31.6],[0.252,33.5],[0.273,32],[0.615,33.7],[0.821,32.7],[0.365,29.4],[0.368,28.1],[0.16,29.4],[0.879,28.6],[0.588,26.9],[1.216,26],[0.242,26.9],[0.256,28.2],[0.1,24.1],[0.132,23.1],[0.239,24.8],[0.28,23.8],[0.315,24],[1.083,23.8],[0.56,23.4],[0.51,23.3],[0.898,21.7],[0.993,21.4],[0.752,22.8],[0.612,21.7],[0.404,22.2],[0.097,19.7],[0.072,18.6],[0.185,18.3],[0.239,20.9],[0.283,20],[0.39,20],[0.56,18.8],[0.598,19.2],[0.634,18.3],[0.744,19.7],[0.687,18],[0.789,18.3],[0.883,17.8],[0.993,16.1],[0.056,15.2],[0.724,16.3],[0.76,15.7],[0.807,14.9],[0.861,14],[1.162,13.2],[1.143,13.5],[1.083,11.8],[1.062,11.5],[1.044,11],[1.096,9.2],[1.219,9.2],[1.335,7.7],[1.377,7.2],[1.41,6.8],[1.007,9.2],[0.974,9.7],[0.941,8.7],[0.92,4.6],[0.968,5.5],[1.008,3.8],[1.044,5.5],[1.052,3.2],[1.125,5.5],[1.136,2.1],[1.176,6.7],[1.181,5.5],[1.214,6.3],[1.159,11.5]];
const dim8Core=[[0.02,2],[0.04,0.6],[0.06,2.5],[0.08,1],[0.1,3],[0.12,0.5],[0.14,2],[0.16,1.1],[0.18,2.8],[0.2,0.4],[0.22,1.9],[0.24,1],[0.27,3],[0.29,0.6],[0.31,2.1],[0.33,0.9],[0.35,2.7],[0.37,0.5],[0.39,2],[0.41,1],[0.44,3.1],[0.46,0.4],[0.48,1.8],[0.5,1],[0.52,2.6],[0.54,0.5],[0.56,2.1],[0.59,1],[0.61,2.9],[0.63,0.5],[0.65,1.7],[0.67,1],[0.69,2.8],[0.72,0.4],[0.74,2],[0.76,0.9],[0.78,2.6],[0.8,0.5],[0.82,1.9],[0.85,1.1],[0.87,2.5],[0.9,0.6],[0.93,1.8],
[0.03,6],[0.05,4.5],[0.07,7],[0.09,5],[0.11,6.5],[0.13,4.4],[0.15,6.2],[0.17,5.1],[0.19,7.1],[0.21,4.6],[0.23,6.1],[0.25,5],[0.28,6.9],[0.3,4.3],[0.32,6.2],[0.34,5.2],[0.36,7],[0.38,4.5],[0.4,6],[0.43,5.1],[0.45,6.8],[0.47,4.4],[0.49,6.3],[0.51,5],[0.53,6.7],[0.55,4.6],[0.58,6],[0.6,5.2],[0.62,6.9],[0.64,4.4],[0.66,6.1],[0.68,5],[0.71,6.6],[0.73,4.5],[0.75,6],[0.77,5.1],[0.79,6.8],[0.81,4.3],[0.84,6],[0.86,5.2],[0.88,6.2],[0.91,4.6],
[0.04,9.5],[0.06,11],[0.09,9],[0.12,10.6],[0.14,8.8],[0.17,11.2],[0.2,9],[0.22,10.3],[0.25,8.7],[0.27,11],[0.3,9.2],[0.33,10.1],[0.35,8.6],[0.38,11.1],[0.41,9],[0.43,10.4],[0.46,8.6],[0.49,10.8],[0.51,9.1],[0.54,10],[0.57,8.5],[0.59,10.7],[0.62,9.2],[0.65,10],[0.67,8.7],[0.7,10.3],[0.73,9],[0.75,9.8],[0.78,8.5],[0.8,10.1],[0.83,8.8],[0.86,9.6],
[0.05,13],[0.09,14],[0.13,12.5],[0.17,14.5],[0.21,13],[0.25,15],[0.29,12.6],[0.33,14.2],[0.37,13],[0.41,14.6],[0.45,12.5],[0.49,13.8],[0.53,12.4],[0.57,14],[0.61,12.6],[0.65,13.3],[0.7,12.2],[0.74,13],[0.8,12.4]];
const dim8Fill=[[0.03,3.6],[0.05,4.2],[0.07,3.2],[0.09,4.4],[0.11,3.5],[0.13,4],[0.15,3.1],[0.17,4.3],[0.19,3.4],[0.21,4],[0.235,3.2],[0.255,4.4],[0.28,3.6],[0.3,4],[0.32,3.1],[0.34,4.2],[0.36,3.5],[0.38,4],[0.4,3.2],[0.425,4.3],[0.45,3.6],[0.47,4],[0.49,3.1],[0.51,4.4],[0.53,3.5],[0.55,4],[0.575,3.2],[0.6,4.2],[0.62,3.6],[0.64,4],[0.66,3.1],[0.68,4.3],[0.705,3.4],[0.73,4],[0.75,3.2],[0.77,4.4],[0.79,3.5],[0.81,4],[0.835,3.1],[0.86,4.2],[0.88,3.6],[0.91,3.9],
[0.03,8.5],[0.055,7.4],[0.08,8.6],[0.1,7.6],[0.125,8.4],[0.15,7.4],[0.175,8.8],[0.2,7.7],[0.225,8.3],[0.25,7.5],[0.275,8.7],[0.3,7.6],[0.325,8.4],[0.35,7.4],[0.375,8.6],[0.4,7.7],[0.425,8.2],[0.45,7.5],[0.475,8.8],[0.5,7.6],[0.525,8.3],[0.55,7.4],[0.575,8.7],[0.6,7.7],[0.625,8.4],[0.65,7.5],[0.675,8.6],[0.7,7.6],[0.725,8.2],[0.75,7.4],[0.775,8.5],[0.8,7.6],[0.825,8.1],[0.85,7.3],[0.88,7.9],
[0.05,11.8],[0.08,12.4],[0.11,11.6],[0.15,12.2],[0.18,11.5],[0.23,12.3],[0.26,11.7],[0.31,12.1],[0.34,11.6],[0.39,12.4],[0.42,11.8],[0.47,12.1],[0.5,11.5],[0.55,12.2],[0.6,11.6],[0.64,12],[0.68,11.4],[0.72,11.9],[0.77,11.3]];

const dim9Out=[[0.217,101.1],[0.318,85.2],[0.369,84.3],[0.783,84.7],[0.012,79.2],[0.413,74.6],[0.143,71.7],[0.02,56.9],[0.608,52.8],[0.159,47.1],[0.319,45.4],[0.595,45.4],[1.121,39.6],[1.195,38.9],[0.828,38.4],[0.052,34.8],[0.188,34.3],[0.296,33.9],[0.666,32.6],[0.538,31.7],[0.557,31.7],[0.56,29.1],[0.536,27.9],[0.093,28.6],[0.277,28.3],[0.499,26.1],[0.62,26.7],[0.822,25.9],[0.023,25.5],[0.347,26.2],[0.44,26.6],[0.413,25.5],[0.334,23.7],[0.758,24.3],[0.114,24],[0.554,24.5],[0.265,24],[0.598,23.7],[0.115,21.8],[0.426,22.1],[0.643,22.3],[0.803,21.3],[0.217,20.2],[0.3,21.1],[0.569,20.6],[0.99,20.6],[0.117,18.7],[0.223,18.7],[0.466,18.5],[0.698,19.4],[0.741,18.3],[0.87,18.3],[1.012,18],[0.627,17.1],[0.911,15.4],[1.289,14.1],[1.309,13.2],[1.163,12.9],[0.073,14.6],[0.025,10.3],[1.254,7.7],[1.321,8.1],[1.327,5.1],[1.397,6.3],[1.421,6],[1.443,5.1],[1.44,3.9],[1.638,6.9],[1.802,7.2],[1.224,4.3],[1.201,3.4],[1.198,9.1],[1.152,9.4],[1.155,5.1],[1.122,9.4],[1.093,7.7],[1.076,6.3],[1.039,9.4],[1.003,12.9]];
const dim9Core=[[0.01,3],[0.03,1],[0.05,2.5],[0.07,0.5],[0.09,2],[0.11,1.1],[0.13,3],[0.15,0.4],[0.18,2],[0.2,1],[0.22,2.8],[0.24,0.5],[0.26,1.9],[0.29,1],[0.31,3],[0.33,0.6],[0.35,2.1],[0.38,0.9],[0.4,2.7],[0.42,0.5],[0.44,2],[0.47,1],[0.49,3.1],[0.51,0.4],[0.53,1.8],[0.56,1],[0.58,2.6],[0.6,0.5],[0.63,2.1],[0.65,1],[0.67,2.9],[0.69,0.5],[0.72,1.7],[0.74,1],[0.76,2.8],[0.79,0.4],[0.81,2],[0.83,0.9],[0.86,2.6],[0.88,0.5],[0.9,1.9],[0.93,1.1],[0.95,2.5],[0.97,0.6],[1,1.8],[1.02,1],[1.05,2.2],[1.08,0.8],[1.11,1.6],
[0.02,6],[0.04,4.5],[0.06,7],[0.08,5],[0.1,6.5],[0.12,4.4],[0.14,6.2],[0.17,5.1],[0.19,7.1],[0.21,4.6],[0.23,6.1],[0.25,5],[0.28,6.9],[0.3,4.3],[0.32,6.2],[0.34,5.2],[0.37,7],[0.39,4.5],[0.41,6],[0.43,5.1],[0.46,6.8],[0.48,4.4],[0.5,6.3],[0.52,5],[0.55,6.7],[0.57,4.6],[0.59,6],[0.62,5.2],[0.64,6.9],[0.66,4.4],[0.68,6.1],[0.71,5],[0.73,6.6],[0.75,4.5],[0.78,6],[0.8,5.1],[0.82,6.8],[0.85,4.3],[0.87,6],[0.89,5.2],[0.92,6.5],[0.94,4.6],[0.96,6],[0.99,5],[1.01,6.2],[1.04,4.5],[1.07,5.5],[1.1,4.4],[1.13,5],
[0.03,10],[0.06,8.8],[0.09,10.6],[0.12,9],[0.15,11.2],[0.18,8.6],[0.21,10.3],[0.24,9.2],[0.27,11],[0.3,8.7],[0.33,10.1],[0.36,9],[0.39,11.1],[0.42,8.6],[0.45,10.4],[0.48,9.1],[0.51,10.8],[0.54,8.5],[0.57,10],[0.6,9.2],[0.63,10.7],[0.66,8.7],[0.69,10],[0.72,9],[0.75,10.3],[0.78,8.5],[0.81,9.8],[0.84,8.8],[0.87,10.1],[0.9,8.4],[0.93,9.6],[0.96,8.7],[0.99,9.2],[1.03,8.2],
[0.04,13],[0.09,12.4],[0.14,13.6],[0.19,12.6],[0.24,14],[0.3,12.5],[0.35,13.4],[0.41,12.3],[0.46,13.6],[0.52,12.4],[0.58,13],[0.64,12.2],[0.7,12.8],[0.77,12],[0.84,12.5],[0.92,11.8]];
const dim9Fill=[[0.02,3.6],[0.04,4.2],[0.06,3.2],[0.08,4.4],[0.1,3.5],[0.12,4],[0.145,3.1],[0.165,4.3],[0.19,3.4],[0.21,4],[0.23,3.2],[0.255,4.4],[0.275,3.6],[0.3,4],[0.32,3.1],[0.345,4.2],[0.365,3.5],[0.39,4],[0.41,3.2],[0.435,4.3],[0.455,3.6],[0.48,4],[0.5,3.1],[0.525,4.4],[0.545,3.5],[0.57,4],[0.59,3.2],[0.615,4.2],[0.635,3.6],[0.66,4],[0.68,3.1],[0.705,4.3],[0.725,3.4],[0.75,4],[0.77,3.2],[0.795,4.4],[0.815,3.5],[0.84,4],[0.86,3.1],[0.885,4.2],[0.905,3.6],[0.93,4],[0.95,3.2],[0.975,4.1],[0.995,3.5],[1.02,3.9],[1.045,3.2],[1.07,3.7],[1.1,3],
[0.02,8.5],[0.045,7.4],[0.07,8.6],[0.1,7.6],[0.13,8.4],[0.16,7.4],[0.185,8.8],[0.215,7.7],[0.245,8.3],[0.27,7.5],[0.3,8.7],[0.33,7.6],[0.355,8.4],[0.385,7.4],[0.415,8.6],[0.44,7.7],[0.47,8.2],[0.5,7.5],[0.525,8.8],[0.555,7.6],[0.585,8.3],[0.61,7.4],[0.64,8.7],[0.67,7.7],[0.695,8.4],[0.725,7.5],[0.755,8.6],[0.78,7.6],[0.81,8.2],[0.84,7.4],[0.865,8.5],[0.895,7.6],[0.925,8.1],[0.95,7.3],[0.98,8],[1.01,7.2],[1.04,7.6],[1.08,7]];

const dim10Out=[[0.089,138.9],[0.501,122.9],[0.539,104.9],[0.566,101],[0.382,70.1],[0.401,62.7],[0.482,61.2],[0.771,63.9],[0.875,63.8],[0.205,59.3],[0.621,56.9],[0.579,48.7],[0.037,52.5],[0.563,43.9],[0.104,43.2],[0.355,43.4],[0.349,39.4],[0.296,41.5],[0.331,41.7],[0.28,39.4],[0.265,38.4],[0.23,41],[0.18,40.3],[0.053,38.6],[0.108,38.1],[0.645,35.7],[0.708,34.6],[0.721,34.3],[0.034,35],[0.116,35.1],[0.136,32.6],[0.119,31.4],[0.309,32.1],[0.227,31],[0.346,30.7],[0.385,31.2],[0.864,30.5],[0.631,29.5],[0.628,26.6],[0.255,27.8],[0.283,25.2],[0.368,26.6],[0.434,26.2],[0.444,25.7],[0.463,23.8],[0.382,23.1],[0.705,22.8],[0.053,23.1],[0.11,23.1],[0.202,23.7],[0.925,22.1],[0.838,21.8],[0.78,21.1],[0.892,20.1],[0.042,19],[0.079,18.9],[0.097,20.2],[0.227,19.2],[0.242,19.4],[0.271,20.1],[0.321,21.1],[0.36,20.1],[0.42,19.4],[0.484,18.3],[0.533,18],[0.567,19.7],[0.601,17.5],[0.656,17.7],[0.687,17.5],[0.781,19.7],[0.806,17],[0.828,14.9],[0.876,14],[0.925,14.5],[0.736,13.2],[1.052,13.2],[1.179,6.8],[1.196,6],[1.242,5.1],[1.093,6.8],[1.068,3.9],[1.034,10.6],[1.001,9.1],[0.971,8.5],[0.942,6.8],[0.954,3.9],[1.001,5.1],[1.045,6.8],[1.064,8.5]];
const dim10Core=[[0.01,3],[0.03,1],[0.05,2.5],[0.07,0.5],[0.09,2],[0.11,1.1],[0.13,3],[0.15,0.4],[0.17,2],[0.19,1],[0.22,2.8],[0.24,0.5],[0.26,1.9],[0.28,1],[0.3,3],[0.32,0.6],[0.35,2.1],[0.37,0.9],[0.39,2.7],[0.41,0.5],[0.43,2],[0.45,1],[0.48,3.1],[0.5,0.4],[0.52,1.8],[0.54,1],[0.56,2.6],[0.58,0.5],[0.61,2.1],[0.63,1],[0.65,2.9],[0.67,0.5],[0.69,1.7],[0.71,1],[0.74,2.8],[0.76,0.4],[0.78,2],[0.8,0.9],[0.82,2.6],[0.84,0.5],[0.87,1.9],[0.89,1.1],[0.91,2.5],[0.93,0.6],[0.96,1.8],[0.98,1],[1.01,2.3],[1.05,1.5],
[0.02,6],[0.04,4.5],[0.06,7],[0.08,5],[0.1,6.5],[0.12,4.4],[0.14,6.2],[0.16,5.1],[0.18,7.1],[0.2,4.6],[0.23,6.1],[0.25,5],[0.27,6.9],[0.29,4.3],[0.31,6.2],[0.33,5.2],[0.36,7],[0.38,4.5],[0.4,6],[0.42,5.1],[0.44,6.8],[0.46,4.4],[0.49,6.3],[0.51,5],[0.53,6.7],[0.55,4.6],[0.57,6],[0.59,5.2],[0.62,6.9],[0.64,4.4],[0.66,6.1],[0.68,5],[0.7,6.6],[0.72,4.5],[0.75,6],[0.77,5.1],[0.79,6.8],[0.81,4.3],[0.83,6],[0.85,5.2],[0.88,6.5],[0.9,4.6],[0.92,6],[0.94,5],[0.97,6.2],[1,4.8],[1.03,5.6],[1.06,4.4],[1.09,5.4],
[0.03,10],[0.05,8.8],[0.08,10.6],[0.1,9],[0.13,11.2],[0.16,8.6],[0.18,10.3],[0.21,9.2],[0.24,11],[0.26,8.7],[0.29,10.1],[0.31,9],[0.34,11.1],[0.37,8.6],[0.39,10.4],[0.42,9.1],[0.45,10.8],[0.47,8.5],[0.5,10],[0.52,9.2],[0.55,10.7],[0.58,8.7],[0.6,10],[0.63,9],[0.66,10.3],[0.68,8.5],[0.71,9.8],[0.73,8.8],[0.76,10.1],[0.79,8.4],[0.81,9.6],[0.84,8.7],[0.87,9.4],[0.9,8.2],[0.94,8.8],
[0.04,13],[0.07,14.5],[0.1,12.8],[0.13,14],[0.16,13.2],[0.19,15],[0.22,12.6],[0.25,14.2],[0.28,13],[0.31,15.2],[0.34,12.8],[0.37,14.4],[0.4,13.2],[0.43,14.8],[0.46,12.6],[0.49,13.8],[0.52,12.4],[0.56,14],[0.6,12.6],[0.64,13.5],[0.68,12.2],[0.72,13.2],[0.77,12.4],[0.82,12.8],[0.88,12]];
const dim10Fill=[[0.02,3.6],[0.04,4.2],[0.06,3.2],[0.08,4.4],[0.1,3.5],[0.12,4],[0.14,3.1],[0.16,4.3],[0.18,3.4],[0.205,4],[0.23,3.2],[0.25,4.4],[0.27,3.6],[0.29,4],[0.31,3.1],[0.335,4.2],[0.36,3.5],[0.38,4],[0.4,3.2],[0.42,4.3],[0.44,3.6],[0.465,4],[0.49,3.1],[0.51,4.4],[0.53,3.5],[0.55,4],[0.57,3.2],[0.595,4.2],[0.62,3.6],[0.64,4],[0.66,3.1],[0.68,4.3],[0.7,3.4],[0.725,4],[0.75,3.2],[0.77,4.4],[0.79,3.5],[0.81,4],[0.83,3.1],[0.855,4.2],[0.88,3.6],[0.9,4],[0.92,3.2],[0.945,4.1],[0.97,3.4],[0.995,3.9],[1.03,3.2],[1.07,3.5],
[0.02,8.5],[0.045,7.4],[0.07,8.6],[0.095,7.6],[0.12,8.4],[0.145,7.4],[0.17,8.8],[0.195,7.7],[0.22,8.3],[0.245,7.5],[0.27,8.7],[0.295,7.6],[0.32,8.4],[0.345,7.4],[0.37,8.6],[0.395,7.7],[0.42,8.2],[0.445,7.5],[0.47,8.8],[0.495,7.6],[0.52,8.3],[0.545,7.4],[0.57,8.7],[0.595,7.7],[0.62,8.4],[0.645,7.5],[0.67,8.6],[0.695,7.6],[0.72,8.2],[0.745,7.4],[0.77,8.5],[0.795,7.6],[0.82,8.1],[0.845,7.3],[0.87,8.2],[0.9,7.4],[0.93,7.9],[0.96,7.2],[1,7.5],[1.04,7],
[0.04,11.8],[0.07,12.3],[0.11,11.6],[0.15,12.2],[0.2,11.5],[0.23,12.3],[0.27,11.7],[0.32,12.1],[0.36,11.6],[0.41,12.4],[0.44,11.8],[0.48,12.1],[0.51,11.5],[0.54,12.2],[0.58,11.6],[0.62,12],[0.66,11.4],[0.7,11.9],[0.74,11.3],[0.79,11.6],[0.85,11.2]];

const panelData=[[],
  dim2Core.concat(dim2Fill,dim2Out),dim3Core.concat(dim3Fill,dim3Out),dim4Core.concat(dim4Fill,dim4Out),
  dim5Core.concat(dim5Fill,dim5Out),dim6Core.concat(dim6Fill,dim6Out),dim7Core.concat(dim7Fill,dim7Out),
  dim8Core.concat(dim8Fill,dim8Out),dim9Core.concat(dim9Fill,dim9Out),dim10Core.concat(dim10Fill,dim10Out)];

const colLeft=[54,806], colWidth=[631,630];
const rowTop=[15,419,824,1229,1634], rowH=291;
const AX='#262626', FONT='"Liberation Serif","Times New Roman",serif';

const grid=[],xAxis=[],yAxis=[],series=[],graphic=[];
for(let i=0;i<10;i++){
  const r=Math.floor(i/2), c=i%2;
  grid.push({left:colLeft[c],top:rowTop[r],width:colWidth[c],height:rowH,containLabel:false});
  const xt=i===0?xTicksDim1:xTicks;
  xAxis.push({type:'value',gridIndex:i,min:xt[0],max:xt[xt.length-1],interval:xt[1]-xt[0],
    axisLine:{show:true,onZero:false,lineStyle:{color:AX,width:1.6}},
    axisTick:{show:true,inside:true,length:7,lineStyle:{color:AX,width:1.6}},
    splitLine:{show:false},
    axisLabel:{show:true,margin:9,color:AX,fontFamily:FONT,fontSize:31,showMinLabel:true,showMaxLabel:true,
      formatter:function(v){return String(Math.round(v*10)/10);}}});
  yAxis.push({type:'value',gridIndex:i,min:yTicks[0],max:yTicks[yTicks.length-1],interval:yTicks[1]-yTicks[0],
    axisLine:{show:true,onZero:false,lineStyle:{color:AX,width:1.6}},
    axisTick:{show:true,inside:true,length:7,lineStyle:{color:AX,width:1.6}},
    splitLine:{show:false},
    axisLabel:{show:true,margin:6,color:AX,fontFamily:FONT,fontSize:31,showMinLabel:true,showMaxLabel:true}});
  series.push({type:'scatter',xAxisIndex:i,yAxisIndex:i,data:panelData[i],symbol:'circle',symbolSize:10.5,
    itemStyle:{color:'#0072BD',opacity:1},clip:false,silent:true,animation:false,progressive:0,large:false});
  graphic.push({type:'text',x:colLeft[c]+441,y:rowTop[r]+71-14,
    style:{text:dimLabels[i],font:'41px '+FONT,fill:'#000',verticalAlign:'middle',textVerticalAlign:'middle',textAlign:'left'}});
}
graphic.push({type:'text',x:86,y:220-15,style:{text:noteLines[0],font:'44px '+FONT,fill:'#000',verticalAlign:'middle',textVerticalAlign:'middle'}});
graphic.push({type:'text',x:86,y:270-15,style:{text:noteLines[1],font:'44px '+FONT,fill:'#000',verticalAlign:'middle',textVerticalAlign:'middle'}});

const chart=echarts.init(document.getElementById('c'),null,{renderer:'canvas',width:1442,height:1963});
chart.setOption({animation:false,backgroundColor:'#fff',grid,xAxis,yAxis,series,graphic});
</script></body></html>
